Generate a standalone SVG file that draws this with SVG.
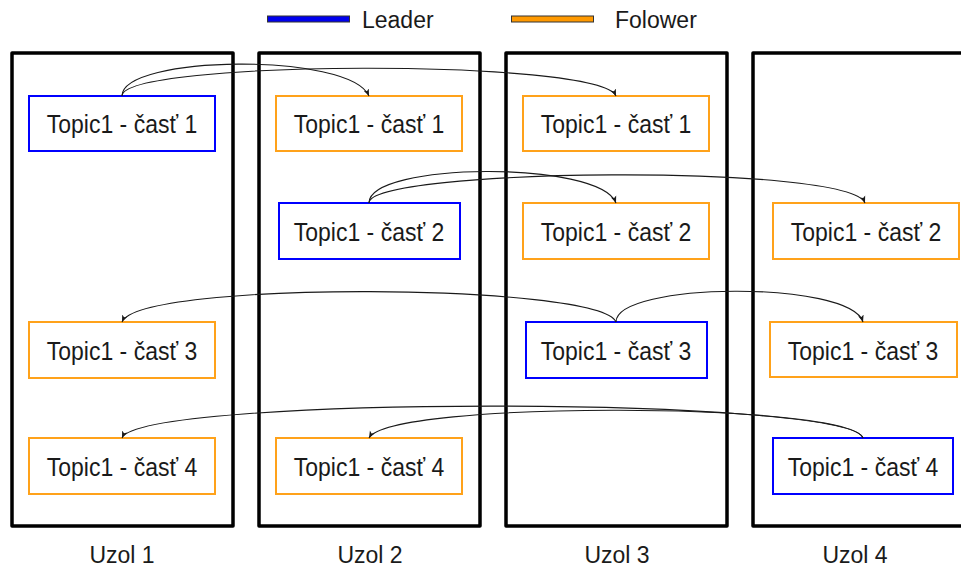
<svg xmlns="http://www.w3.org/2000/svg" width="961" height="567" viewBox="0 0 961 567">
<style>
  .uzol { fill: none; stroke: #000; stroke-width: 3.5; stroke-linejoin: round; }
  .lead { fill: #fff; stroke: #0000ff; stroke-width: 2; }
  .fol { fill: #fff; stroke: #ffa21a; stroke-width: 2; }
  text { font-family: "Liberation Sans", Arial, sans-serif; font-size: 23px; fill: #1a1a1a; text-anchor: middle; }
  .t { transform-box: fill-box; transform-origin: center; transform: scaleY(1.1); }
  .conn { fill: none; stroke: #1a1a1a; stroke-width: 1.1; marker-end: url(#arr); }
</style>
<defs>
  <marker id="arr" viewBox="0 0 10 10" refX="10" refY="5" markerWidth="7" markerHeight="7" markerUnits="userSpaceOnUse" orient="auto">
    <path d="M0,1 L10,5 L0,9 L2.5,5 z" fill="#1a1a1a"/>
  </marker>
</defs>
<rect width="961" height="567" fill="#fff"/>

<g id="legend">
  <rect x="267.5" y="16" width="82" height="6" fill="#0000ee" stroke="#333" stroke-width="1"/>
  <text x="362" y="28" style="text-anchor:start">Leader</text>
  <rect x="511.5" y="16" width="82" height="6" fill="#ff9900" stroke="#333" stroke-width="1"/>
  <text x="615" y="28" style="text-anchor:start">Folower</text>
</g>

<g id="uzol1">
  <rect class="uzol" x="12" y="53" width="221" height="473"/>
  <text x="122" y="563">Uzol 1</text>
</g>
<g id="uzol2">
  <rect class="uzol" x="259" y="53" width="221" height="473"/>
  <text x="370" y="563">Uzol 2</text>
</g>
<g id="uzol3">
  <rect class="uzol" x="506" y="53" width="221" height="473"/>
  <text x="617" y="563">Uzol 3</text>
</g>
<g id="uzol4">
  <rect class="uzol" x="753" y="53" width="230" height="473"/>
  <text x="855" y="563">Uzol 4</text>
</g>

<g id="u1-c1"><rect class="lead" x="29" y="96" width="186" height="55"/><text class="t" x="122" y="132">Topic1 - časť 1</text></g>
<g id="u2-c1"><rect class="fol" x="276" y="96" width="186" height="55"/><text class="t" x="369" y="132">Topic1 - časť 1</text></g>
<g id="u3-c1"><rect class="fol" x="523" y="96" width="186" height="55"/><text class="t" x="616" y="132">Topic1 - časť 1</text></g>

<g id="u2-c2"><rect class="lead" x="279" y="203" width="181" height="56"/><text class="t" x="369" y="240">Topic1 - časť 2</text></g>
<g id="u3-c2"><rect class="fol" x="523" y="203" width="186" height="56"/><text class="t" x="616" y="240">Topic1 - časť 2</text></g>
<g id="u4-c2"><rect class="fol" x="773" y="203" width="186" height="56"/><text class="t" x="866" y="240">Topic1 - časť 2</text></g>

<g id="u1-c3"><rect class="fol" x="29" y="322" width="186" height="56"/><text class="t" x="122" y="359">Topic1 - časť 3</text></g>
<g id="u3-c3"><rect class="lead" x="526" y="322" width="181" height="56"/><text class="t" x="616" y="359">Topic1 - časť 3</text></g>
<g id="u4-c3"><rect class="fol" x="770" y="322" width="187" height="55"/><text class="t" x="863" y="359">Topic1 - časť 3</text></g>

<g id="u1-c4"><rect class="fol" x="29" y="438" width="186" height="56"/><text class="t" x="122" y="475">Topic1 - časť 4</text></g>
<g id="u2-c4"><rect class="fol" x="276" y="438" width="186" height="56"/><text class="t" x="369" y="475">Topic1 - časť 4</text></g>
<g id="u4-c4"><rect class="lead" x="773" y="438" width="180" height="56"/><text class="t" x="863" y="475">Topic1 - časť 4</text></g>

<g id="connectors">
  <path class="conn" d="M122,96 C122,55 350,52 369,96"/>
  <path class="conn" d="M122,96 C122,60 600,58 616,96"/>
  <path class="conn" d="M369,203 C369,162 600,160 616,203"/>
  <path class="conn" d="M369,203 C369,168 850,163 865,203"/>
  <path class="conn" d="M616,322 C600,283 140,280 122,322"/>
  <path class="conn" d="M616,322 C616,282 850,280 863,322"/>
  <path class="conn" d="M863,438 C850,396 140,395 122,438"/>
  <path class="conn" d="M863,438 C850,402 390,400 369,438"/>
</g>
</svg>
